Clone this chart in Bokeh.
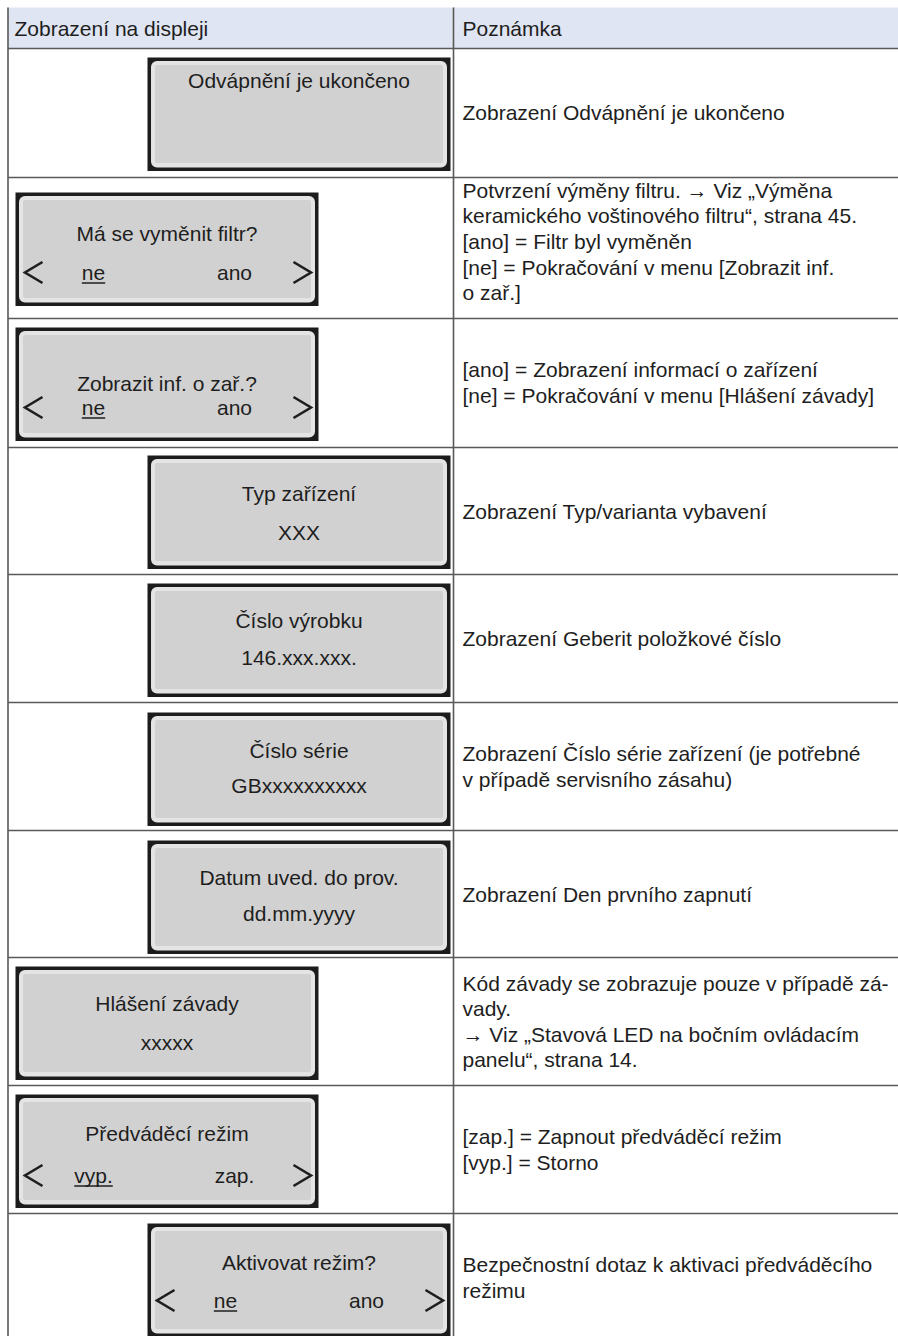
from bokeh.plotting import figure
from bokeh.models import Range1d
from bokeh.core.properties import value
from bokeh.embed import file_html
from bokeh.resources import INLINE

# ---------------- data ----------------
header_labels = ["Zobrazení na displeji", "Poznámka"]

display_title = ["Odvápnění je ukončeno", "Má se vyměnit filtr?", "Zobrazit inf. o zař.?",
                 "Typ zařízení", "Číslo výrobku", "Číslo série", "Datum uved. do prov.",
                 "Hlášení závady", "Předváděcí režim", "Aktivovat režim?"]
display_value = ["", "", "", "XXX", "146.xxx.xxx.", "GBxxxxxxxxxx", "dd.mm.yyyy",
                 "xxxxx", "", ""]
option_left = ["", "ne", "ne", "", "", "", "", "", "vyp.", "ne"]
option_right = ["", "ano", "ano", "", "", "", "", "", "zap.", "ano"]

notes = [
    "Zobrazení Odvápnění je ukončeno",
    "Potvrzení výměny filtru. → Viz „Výměna\nkeramického voštinového filtru“, strana 45.\n"
    "[ano] = Filtr byl vyměněn\n[ne] = Pokračování v menu [Zobrazit inf.\no zař.]",
    "[ano] = Zobrazení informací o zařízení\n[ne] = Pokračování v menu [Hlášení závady]",
    "Zobrazení Typ/varianta vybavení",
    "Zobrazení Geberit položkové číslo",
    "Zobrazení Číslo série zařízení (je potřebné\nv případě servisního zásahu)",
    "Zobrazení Den prvního zapnutí",
    "Kód závady se zobrazuje pouze v případě zá-\nvady.\n→ Viz „Stavová LED na bočním ovládacím\npanelu“, strana 14.",
    "[zap.] = Zapnout předváděcí režim\n[vyp.] = Storno",
    "Bezpečnostní dotaz k aktivaci předváděcího\nrežimu",
]

# ---------------- layout (page pixels) ----------------
W, H = 898, 1336
ROW_EDGES = [48, 177, 318, 447, 574, 702, 830, 957, 1085, 1213, 1342]
HEADER_TOP = 7
LEFT_X = 7.5
COL_X = 453
BOX_SIDE = ["R", "L", "L", "R", "R", "R", "R", "L", "L", "R"]
BOX_LEFT = {"L": 15, "R": 147}
BOX_W, BOX_H = 303, 113.5
BOX_TOP_PAD = [9, 15, 9, 8, 9, 10, 10, 9, 9, 10]
TITLE_DY = [23, 41, 56, 38, 37, 38, 37, 37, 39, 39]
VALUE_DY = [0, 80, 80, 77, 74, 73, 73, 76, 81, 77]
FONT = value("Liberation Sans")
FS = "21px"
FSPX = 21
LINE_H = 25.6
TXT = "#1e1e1e"
GRID = "#595959"

# Arial/Liberation widths (em) for underline length
CW = {"n": .556, "e": .556, "v": .5, "y": .5, "p": .556, ".": .278, "a": .556, "o": .556, "z": .5}


def text_w(s):
    return sum(CW.get(c, .556) for c in s) * FSPX


p = figure(width=W, height=H, x_range=Range1d(0, W), y_range=Range1d(H, 0),
           output_backend="svg", toolbar_location=None, min_border=0,
           x_axis_location=None, y_axis_location=None)
p.xgrid.visible = False
p.ygrid.visible = False
p.outline_line_color = None
p.background_fill_color = "white"
p.border_fill_color = "white"

# header background
p.quad(left=[LEFT_X], right=[W], top=[HEADER_TOP], bottom=[ROW_EDGES[0]],
       fill_color="#dfe5f2", line_color=None)

# boxes
blk = dict(l=[], r=[], t=[], b=[])
rim = dict(l=[], r=[], t=[], b=[])
fil = dict(l=[], r=[], t=[], b=[])
tx, ty, tt = [], [], []
chev_xs, chev_ys = [], []
ul_xs, ul_ys = [], []

for i in range(len(display_title)):
    L = BOX_LEFT[BOX_SIDE[i]]
    T = ROW_EDGES[i] + BOX_TOP_PAD[i]
    for d, ins, insb in ((blk, 0, 0), (rim, 3.5, 3.5), (fil, 7.5, 8)):
        d["l"].append(L + ins)
        d["r"].append(L + BOX_W - ins)
        d["t"].append(T + ins)
        d["b"].append(T + BOX_H - insb)
    cx = L + BOX_W / 2
    tx.append(cx); ty.append(T + TITLE_DY[i]); tt.append(display_title[i])
    if display_value[i]:
        tx.append(cx); ty.append(T + VALUE_DY[i]); tt.append(display_value[i])
    if option_left[i]:
        ny = T + VALUE_DY[i]
        lx = L + 78
        rx = L + 219
        tx += [lx, rx]; ty += [ny, ny]; tt += [option_left[i], option_right[i]]
        wl = text_w(option_left[i])
        ul_xs.append([lx - wl / 2, lx + wl / 2]); ul_ys.append([ny + 10.5, ny + 10.5])
        chev_xs.append([L + 27, L + 9.5, L + 27]); chev_ys.append([ny - 10.5, ny, ny + 10.5])
        chev_xs.append([L + 278, L + 295.5, L + 278]); chev_ys.append([ny - 10.5, ny, ny + 10.5])

p.quad(left=blk["l"], right=blk["r"], top=blk["t"], bottom=blk["b"],
       fill_color="#1c1c1c", line_color=None)
p.quad(left=rim["l"], right=rim["r"], top=rim["t"], bottom=rim["b"],
       fill_color="#e4e4e4", line_color=None, border_radius=6)
p.quad(left=fil["l"], right=fil["r"], top=fil["t"], bottom=fil["b"],
       fill_color="#d1d1d1", line_color=None, border_radius=2)

p.multi_line(xs=chev_xs, ys=chev_ys, line_color=TXT, line_width=2.6, line_join="miter")
p.multi_line(xs=ul_xs, ys=ul_ys, line_color=TXT, line_width=1.3)

# display texts
p.text(x=tx, y=ty, text=tt, text_align="center", text_baseline="middle",
       text_font=FONT, text_font_size=FS, text_color=TXT)

# notes (right column), vertically centred in row
nx, ny_, nt = [], [], []
for i, note in enumerate(notes):
    lines = note.split("\n")
    c = (ROW_EDGES[i] + min(ROW_EDGES[i + 1], ROW_EDGES[i] + 128)) / 2
    for k, ln in enumerate(lines):
        nx.append(COL_X + 9)
        ny_.append(c + (k - (len(lines) - 1) / 2) * LINE_H)
        nt.append(ln)
p.text(x=nx, y=ny_, text=nt, text_align="left", text_baseline="middle",
       text_font=FONT, text_font_size=FS, text_color=TXT)

# header texts
p.text(x=[14, COL_X + 9], y=[(HEADER_TOP + ROW_EDGES[0]) / 2 + 0.5] * 2, text=header_labels,
       text_align="left", text_baseline="middle", text_font=FONT, text_font_size=FS, text_color=TXT)

# grid lines
hx = [[LEFT_X, W] for _ in ROW_EDGES[:-1]]
hy = [[y, y] for y in ROW_EDGES[:-1]]
p.multi_line(xs=hx + [[LEFT_X, LEFT_X], [COL_X, COL_X]],
             ys=hy + [[HEADER_TOP, H], [HEADER_TOP, H]],
             line_color=GRID, line_width=1.6)

open("out.html", "w").write(file_html(p, INLINE))
